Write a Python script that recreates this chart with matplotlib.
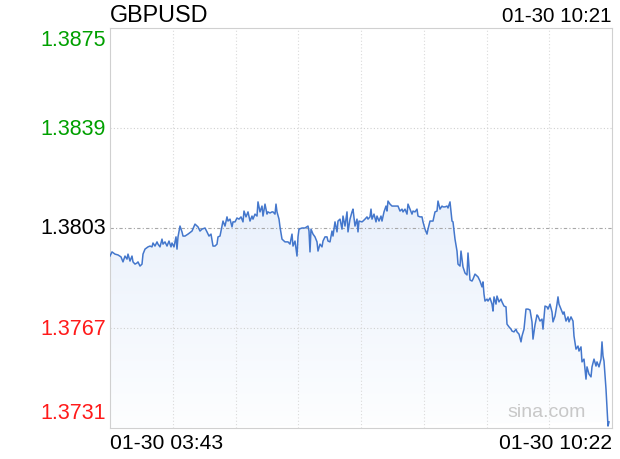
import numpy as np
import matplotlib
matplotlib.use("Agg")
import matplotlib.pyplot as plt
import matplotlib.transforms as mtrans
from matplotlib.path import Path
from matplotlib.patches import PathPatch

plt.rcParams['font.family'] = ['Liberation Sans', 'DejaVu Sans']

# minutes after 01-30 03:43
minutes = [
    0, 1.6, 4, 6.4, 8.8, 10.4, 12, 13.6, 14.4, 16, 17.6, 18.4, 20, 21.6, 22.4, 24, 25.6, 26.4,
    28, 30.4, 32, 33.6, 34.4, 36, 37.6, 38.4, 40, 41.6, 42.4, 44, 45.6, 47.2, 48.8, 49.6, 51.2,
    52.8, 53.6, 54.4, 56, 57.6, 58.4, 60, 62.4, 65.6, 68, 70.4, 72, 73.6, 76,
    77.6, 79.2, 80.8, 82.4, 84, 85.6, 86.4, 88, 89.6, 90.4, 92, 93.6, 94.4, 96, 97.6, 98.4, 100,
    101.6, 103.2, 104.8, 106.4, 107.2, 108.8, 110.4, 112, 113.6, 114.4, 116, 117.6, 118.4, 120,
    121.6, 122.4, 124, 125.6, 126.4, 128, 129.6, 130.4, 132, 132.8, 133.6, 135.2, 136, 137.6,
    140, 142.4, 144, 145.6, 146.4, 148, 149.6, 150.4, 151.2,
    153.6, 156, 158.4, 159.2, 160, 160.8, 162.4, 164, 165.6, 166.4, 168, 169.6, 170.4, 172,
    173.6, 174.4, 176, 177.6, 178.4, 180, 181.6, 182.4, 184, 185.6, 186.4, 188, 189.6, 190.4,
    192, 193.6, 194.4, 196, 197.6, 198.4, 199.2, 201.6, 202.4, 204, 205.6, 206.4, 208, 208.8,
    209.6, 211.2, 212.8, 213.6, 215.2, 216.8, 217.6, 219.2, 220.8, 221.6, 222.4, 224, 225.6,
    228, 230.4, 232, 233.6, 234.4, 236, 237.6, 238.4, 240, 241.6, 242.4, 244, 245.6, 246.4, 248,
    249.6, 250.4, 252, 253.6, 254.4, 256, 258.4, 260, 261.6, 262.4, 264, 265.6, 266.4, 268,
    269.6, 270.4, 272, 272.8, 273.6, 274.4, 276, 277.6, 278.4, 280, 280.8, 282.4, 284, 285.6,
    286.4, 288,
    289.6, 290.4, 292, 293.6, 294.4, 296, 297.6, 298.4, 299.2, 300, 301.6, 302.4, 304, 305.6,
    306.4, 307.2, 308.8, 309.6, 311.2, 312.8, 313.6, 315.2, 316.8, 317.6, 319.2, 320.8, 321.6,
    323.2, 324.8, 325.6, 327.2, 328.8, 329.6, 331.2, 332.8, 334.4, 336, 337.6, 338.4, 340,
    341.6, 342.4, 344, 345.6, 346.4, 348, 349.6, 350.4, 352, 353.6, 354.4, 356, 357.6, 358.4,
    359.2, 360.8, 362.4, 363.2, 364.8, 366.4, 367.2, 368.8, 370.4, 371.2, 372.8, 374.4, 375.2,
    376.8, 377.6, 379.2, 380.8, 381.6, 383.2, 384.8, 385.6, 387.2, 388.8, 389.6, 391.2, 392.8,
    393.6, 394.4, 395.2, 396.8, 398.4, 399.2,
]

prices = [
    1.37929, 1.37944, 1.37936, 1.37933, 1.37926, 1.37908, 1.37929, 1.37918, 1.37936, 1.37911,
    1.37929, 1.37908, 1.37900, 1.37904, 1.37908, 1.37893, 1.37900, 1.37936, 1.37954, 1.37962,
    1.37965, 1.37962, 1.37976, 1.37965, 1.37980, 1.37972, 1.37962, 1.37990, 1.37972, 1.37980,
    1.37965, 1.37983, 1.37962, 1.37976, 1.37962, 1.37998, 1.37954, 1.37998, 1.38037, 1.38016,
    1.38001, 1.38001, 1.38008, 1.38019, 1.38044, 1.38034, 1.38019, 1.38026, 1.38030,
    1.38016, 1.38001, 1.38008, 1.37965, 1.37965, 1.37972, 1.37998, 1.38001, 1.38037, 1.38055,
    1.38037, 1.38070, 1.38055, 1.38062, 1.38034, 1.38052, 1.38052, 1.38066, 1.38062, 1.38070,
    1.38052, 1.38091, 1.38070, 1.38088, 1.38055, 1.38073, 1.38062, 1.38080, 1.38073, 1.38124,
    1.38088, 1.38109, 1.38073, 1.38116, 1.38080, 1.38088, 1.38084, 1.38088, 1.38088, 1.38080,
    1.38116, 1.38088, 1.38062, 1.38034, 1.37990, 1.37980, 1.37980, 1.37972, 1.38008, 1.37965,
    1.37983, 1.37929, 1.37998, 1.38026,
    1.38030, 1.38030, 1.38037, 1.38019, 1.37944, 1.38026, 1.38008, 1.37998, 1.37980, 1.37947,
    1.37972, 1.37962, 1.37983, 1.37998, 1.37998, 1.37983, 1.37980, 1.38019, 1.38001, 1.38052,
    1.38016, 1.38055, 1.38062, 1.38026, 1.38073, 1.38037, 1.38088, 1.38016, 1.38062, 1.38088,
    1.38098, 1.38037, 1.38062, 1.38016, 1.38055, 1.38052, 1.38055, 1.38062, 1.38070, 1.38062,
    1.38070, 1.38098, 1.38062, 1.38080, 1.38052, 1.38073, 1.38055, 1.38073, 1.38055, 1.38088,
    1.38109, 1.38091, 1.38127, 1.38116, 1.38109,
    1.38109, 1.38109, 1.38091, 1.38098, 1.38088, 1.38098, 1.38080, 1.38116, 1.38098, 1.38080,
    1.38091, 1.38088, 1.38098, 1.38073, 1.38070, 1.38070, 1.38052, 1.38026, 1.38008, 1.38026,
    1.38055, 1.38055, 1.38088, 1.38091, 1.38127, 1.38098, 1.38109, 1.38106, 1.38106, 1.38109,
    1.38102, 1.38124, 1.38091, 1.38055, 1.38052, 1.37990, 1.37947, 1.37900, 1.37893, 1.37947,
    1.37890, 1.37868, 1.37861, 1.37940, 1.37843,
    1.37839, 1.37846, 1.37864, 1.37857, 1.37854, 1.37839, 1.37818, 1.37836, 1.37792, 1.37767,
    1.37774, 1.37767, 1.37778, 1.37756, 1.37731, 1.37782, 1.37756, 1.37785, 1.37764, 1.37774,
    1.37764, 1.37749, 1.37746, 1.37684, 1.37674, 1.37666, 1.37659, 1.37656, 1.37666, 1.37656,
    1.37648, 1.37620, 1.37641, 1.37666, 1.37738, 1.37738, 1.37735, 1.37692, 1.37630, 1.37681,
    1.37717, 1.37713, 1.37695, 1.37702, 1.37666, 1.37749, 1.37746, 1.37738, 1.37756, 1.37728,
    1.37692, 1.37713, 1.37756, 1.37782, 1.37756, 1.37738, 1.37720, 1.37728, 1.37695, 1.37710,
    1.37692, 1.37710, 1.37695, 1.37641, 1.37594, 1.37605, 1.37587, 1.37602, 1.37548, 1.37558,
    1.37486, 1.37530, 1.37504, 1.37494, 1.37530, 1.37558, 1.37533, 1.37548, 1.37530, 1.37558,
    1.37620, 1.37569, 1.37551, 1.37450, 1.37317, 1.37332,
]

y_ticks = [1.3731, 1.3767, 1.3803, 1.3839, 1.3875]
y_labels = ["1.3731", "1.3767", "1.3803", "1.3839", "1.3875"]
prev_close = 1.3803
x_max = 401.6
title = "GBPUSD"
stamp = "01-30 10:21"
start_label = "01-30 03:43"
end_label = "01-30 10:22"

W, H = 620, 460
fig = plt.figure(figsize=(W / 100, H / 100), dpi=100)
ax = fig.add_axes([110 / W, 31 / H, 502 / W, 400 / H])
ax.set_xlim(0, x_max)
ax.set_ylim(y_ticks[0], y_ticks[-1])

line_color = '#4477cc'

# gradient fill under the line
grad = np.linspace(0, 1, 256).reshape(-1, 1)
top_c = np.array([218, 230, 249]) / 255
bot_c = np.array([253, 254, 255]) / 255
img = top_c * (1 - grad[..., None]) + bot_c * grad[..., None]
im = ax.imshow(img, extent=[0, x_max, y_ticks[0], y_ticks[-1]], aspect='auto',
               origin='upper', zorder=1)
verts = [(minutes[0], y_ticks[0])] + list(zip(minutes, prices)) + [(minutes[-1], y_ticks[0])]
clip = PathPatch(Path(verts, closed=True), transform=ax.transData, facecolor='none',
                 edgecolor='none')
ax.add_patch(clip)
im.set_clip_path(clip)

# grid
for k in range(1, 8):
    ax.axvline(x_max * k / 8, color='#dadada', lw=0.8, ls=(0, (1, 2)), zorder=2)
for v in y_ticks[1:-1]:
    if v == prev_close:
        ax.axhline(v, color='#a8a8a8', lw=0.8, ls=(0, (3, 2, 1, 2)), zorder=2)
    else:
        ax.axhline(v, color='#d0d0d0', lw=0.8, ls=(0, (1, 2)), zorder=2)

ax.plot(minutes, prices, color=line_color, lw=1.1, zorder=3)

ax.set_xticks([])
ax.set_yticks([])
for s in ax.spines.values():
    s.set_color('#d0d0d0')
    s.set_linewidth(0.8)

# y labels, coloured against previous close
trans = mtrans.blended_transform_factory(ax.transAxes, ax.transData)
for v, lab in zip(y_ticks, y_labels):
    if v > prev_close:
        c = '#00a000'
    elif v < prev_close:
        c = '#ff1a1a'
    else:
        c = '#000000'
    dy = 0
    if v == y_ticks[-1]:
        dy = -11
    elif v == y_ticks[0]:
        dy = 16
    t = mtrans.offset_copy(trans, fig=fig, x=-4, y=dy, units='dots')
    ax.text(0, v, lab, transform=t, ha='right', va='center', fontsize=15.5, color=c)

fig.text(110 / W, 1 - 15 / H, title, ha='left', va='center', fontsize=16.8)
fig.text(612 / W, 1 - 16 / H, stamp, ha='right', va='center', fontsize=14.8)
fig.text(110 / W, 1 - 444 / H, start_label, ha='left', va='center', fontsize=15.2)
fig.text(612 / W, 1 - 444 / H, end_label, ha='right', va='center', fontsize=15.2)
fig.text(547 / W, 1 - 413 / H, "sina.com", ha='center', va='center', fontsize=14,
         color='#c8c8c8')

fig.savefig("out.png", dpi=100)
